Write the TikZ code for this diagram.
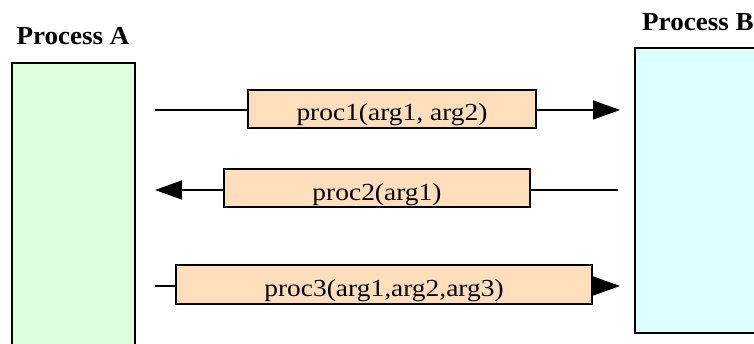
\documentclass[tikz,border=0pt]{standalone}
\usepackage{fontspec}
\setmainfont{Liberation Serif}
\newfontfamily\msgfont[FakeStretch=1.12]{Liberation Serif}
\newfontfamily\ttlfont[FakeStretch=1.04]{Liberation Serif}
\usetikzlibrary{arrows.meta}
\definecolor{pagreen}{RGB}{221,255,221}
\definecolor{pbcyan}{RGB}{221,255,255}
\definecolor{msgfill}{RGB}{255,222,190}
\tikzset{
  procbox/.style={draw=black, line width=2pt, inner sep=0pt},
  msgbox/.style={draw=black, fill=msgfill, line width=2pt, inner sep=0pt, minimum height=38pt,
    text height=24pt, text depth=0pt, font=\msgfont\fontsize{24.5}{27}\selectfont},
  title/.style={font=\ttlfont\bfseries\fontsize{26}{28}\selectfont, anchor=base, inner sep=0pt},
  msgline/.style={line width=1.5pt},
  msgarrow/.style={line width=1.5pt, -{Triangle[length=27pt, width=19pt]}},
}
\begin{document}
\begin{tikzpicture}[x=1pt, y=-1pt]
\useasboundingbox (0,0) rectangle (754,344);
\clip (0,0) rectangle (754,344);
% process boxes
\node[procbox, fill=pagreen, minimum width=123pt, minimum height=290pt, anchor=north west] (pa) at (11,62) {};
\node[procbox, fill=pbcyan, minimum width=130pt, minimum height=285pt, anchor=north west] (pb) at (634,47) {};
\node[title] (ta) at (73,45) {Process A};
\node[title, anchor=base west] (tb) at (642,31) {Process B};
% messages
\node[msgbox, minimum width=288pt] (m1) at (392,109) {proc1(arg1, arg2)};
\node[msgbox, minimum width=306pt] (m2) at (377,188.5) {proc2(arg1)};
\node[msgbox, minimum width=416pt] (m3) at (384,284.5) {proc3(arg1,arg2,arg3)};
% free ends
\coordinate (s1) at (155,110);
\coordinate (e1) at (620,110);
\coordinate (s2) at (618,190);
\coordinate (e2) at (155,190);
\coordinate (s3) at (155,286);
\coordinate (e3) at (620,286);
\draw[msgline] (s1) -- (m1.west |- s1);
\draw[msgarrow] (m1.east |- e1) -- (e1);
\draw[msgline] (s2) -- (m2.east |- s2);
\draw[msgarrow] (m2.west |- e2) -- (e2);
\draw[msgline] (s3) -- (m3.west |- s3);
\draw[msgarrow] (m3.east |- e3) -- (e3);
\end{tikzpicture}
\end{document}
